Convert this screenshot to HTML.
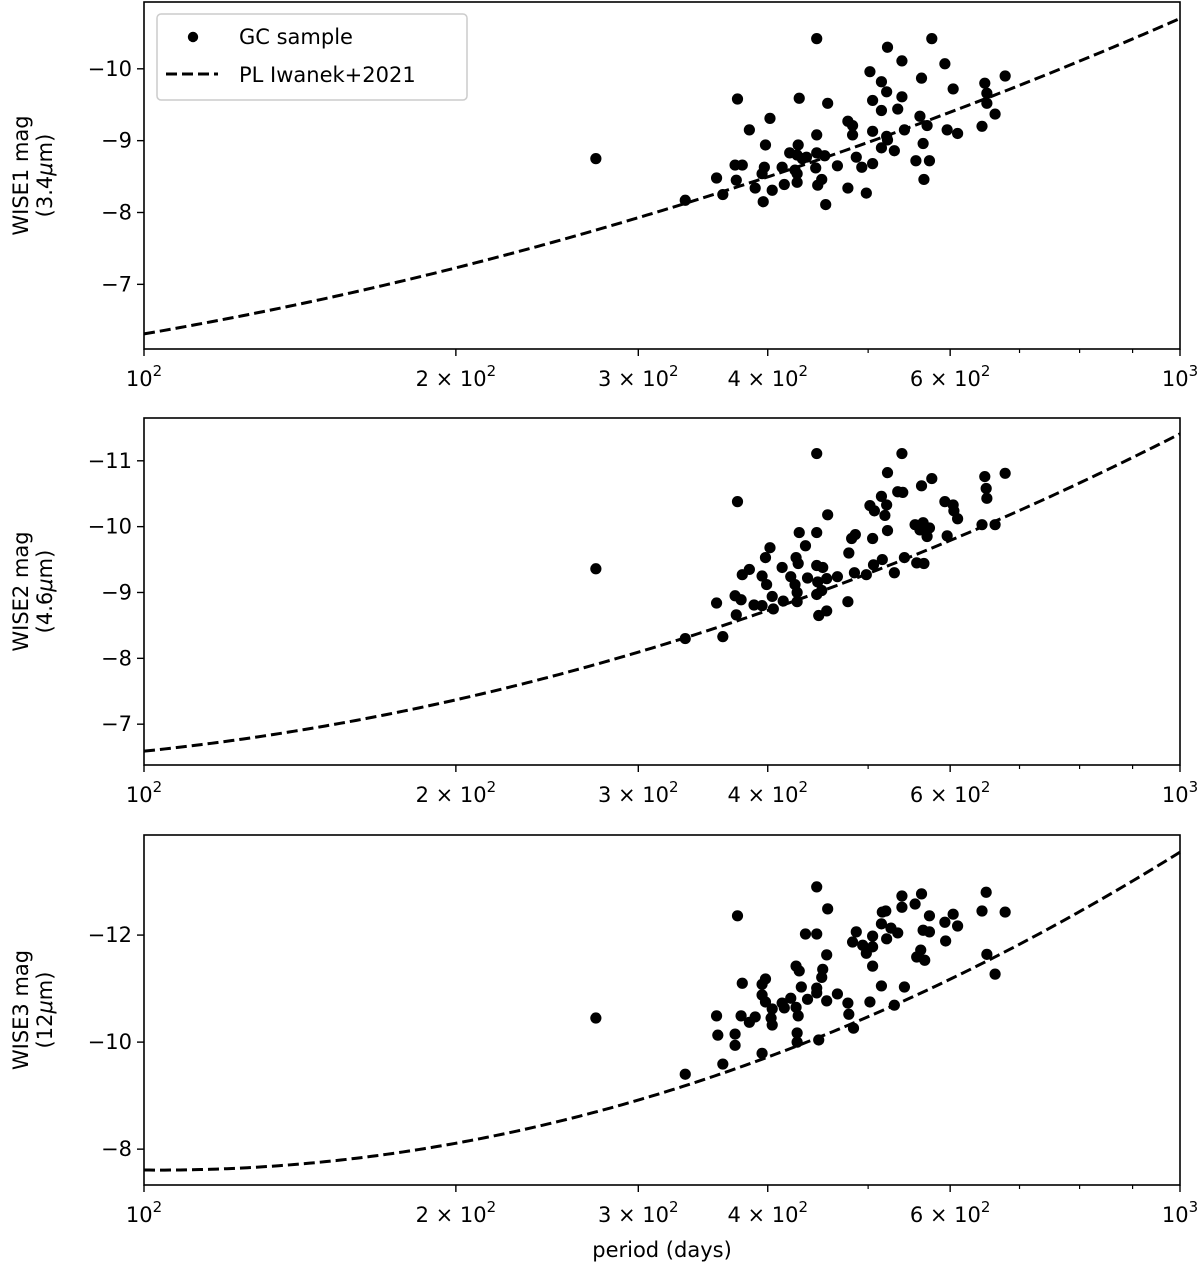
<!DOCTYPE html>
<html><head><meta charset="utf-8"><style>
html,body{margin:0;padding:0;background:#fff;}
svg{display:block;font-family:"DejaVu Sans","Liberation Sans",sans-serif;}
</style></head><body>
<svg id="fig" width="1200" height="1268" viewBox="0 0 1200 1268" xmlns="http://www.w3.org/2000/svg"></svg>
<script>
const xDomain=[100,1000];
const xTickMajor=[100,200,300,400,600,1000];
const xTickLabels=[["10","2"],["2 \u00d7 10","2"],["3 \u00d7 10","2"],["4 \u00d7 10","2"],["6 \u00d7 10","2"],["10","3"]];
const xTickMinor=[500,700,800,900];
const plCoef1=[-6.31,-2.48,-1.91];
const plCoef2=[-6.59,-1.63,-3.19];
const plCoef3=[-7.61,0.18,-6.12];
const yTicks1=[-10,-9,-8,-7];
const yTicks2=[-11,-10,-9,-8,-7];
const yTicks3=[-12,-10,-8];
const yDomain1=[-10.93,-6.10];
const yDomain2=[-11.65,-6.38];
const yDomain3=[-13.87,-7.33];
const w1=[[273,-8.75],[446,-10.42],[576,-10.42],[522,-10.30],[539,-10.11],[593,-10.07],[502,-9.96],[678,-9.90],[563,-9.87],[648,-9.80],[515,-9.82],[604,-9.72],[521,-9.68],[374,-9.58],[429,-9.59],[457,-9.52],[505,-9.56],[539,-9.61],[651,-9.66],[651,-9.52],[515,-9.42],[534,-9.44],[663,-9.37],[402,-9.31],[478,-9.27],[561,-9.34],[384,-9.15],[483,-9.21],[483,-9.08],[505,-9.13],[542,-9.15],[570,-9.21],[596,-9.15],[610,-9.10],[644,-9.20],[446,-9.08],[521,-9.06],[522,-9.01],[398,-8.94],[428,-8.94],[565,-8.96],[420,-8.83],[427,-8.80],[436,-8.77],[446,-8.83],[454,-8.79],[515,-8.90],[530,-8.86],[487,-8.77],[372,-8.66],[378,-8.66],[397,-8.63],[413,-8.63],[425,-8.59],[432,-8.75],[445,-8.62],[467,-8.65],[493,-8.63],[505,-8.68],[556,-8.72],[573,-8.72],[357,-8.48],[373,-8.45],[395,-8.54],[427,-8.54],[427,-8.42],[451,-8.46],[447,-8.38],[566,-8.46],[389,-8.34],[404,-8.31],[415,-8.39],[478,-8.34],[498,-8.27],[362,-8.25],[396,-8.15],[455,-8.11],[333,-8.17]];
const w2=[[273,-9.36],[446,-11.11],[539,-11.11],[522,-10.82],[678,-10.81],[648,-10.76],[576,-10.73],[563,-10.62],[650,-10.58],[534,-10.53],[540,-10.52],[515,-10.46],[651,-10.43],[374,-10.38],[593,-10.38],[502,-10.32],[521,-10.33],[604,-10.33],[507,-10.24],[605,-10.24],[519,-10.17],[457,-10.18],[610,-10.12],[555,-10.03],[565,-10.06],[644,-10.03],[663,-10.03],[561,-9.95],[573,-9.98],[570,-9.85],[596,-9.86],[522,-9.94],[429,-9.91],[446,-9.91],[486,-9.88],[482,-9.82],[505,-9.82],[435,-9.71],[402,-9.68],[398,-9.53],[479,-9.60],[426,-9.53],[428,-9.44],[413,-9.38],[446,-9.41],[452,-9.38],[542,-9.53],[516,-9.50],[557,-9.45],[566,-9.44],[506,-9.42],[530,-9.30],[384,-9.35],[378,-9.27],[395,-9.25],[421,-9.24],[437,-9.22],[456,-9.21],[467,-9.24],[485,-9.30],[498,-9.27],[399,-9.12],[425,-9.12],[447,-9.16],[372,-8.95],[377,-8.89],[404,-8.94],[427,-9.00],[451,-9.03],[446,-8.97],[357,-8.84],[388,-8.81],[395,-8.80],[414,-8.87],[427,-8.86],[405,-8.75],[478,-8.86],[373,-8.66],[456,-8.72],[448,-8.65],[333,-8.30],[362,-8.33]];
const w3=[[273,-10.45],[446,-12.90],[650,-12.80],[539,-12.73],[563,-12.77],[555,-12.58],[539,-12.52],[516,-12.43],[520,-12.45],[457,-12.49],[644,-12.45],[678,-12.43],[573,-12.36],[604,-12.39],[374,-12.36],[593,-12.24],[610,-12.17],[515,-12.21],[526,-12.13],[565,-12.09],[573,-12.06],[534,-12.04],[487,-12.06],[505,-11.98],[521,-11.93],[435,-12.02],[446,-12.02],[594,-11.89],[483,-11.87],[494,-11.81],[505,-11.78],[498,-11.66],[562,-11.72],[557,-11.59],[567,-11.53],[651,-11.64],[456,-11.63],[505,-11.42],[426,-11.42],[429,-11.33],[452,-11.36],[451,-11.21],[663,-11.27],[398,-11.18],[395,-11.08],[378,-11.10],[515,-11.05],[542,-11.03],[431,-11.03],[446,-11.01],[446,-10.92],[395,-10.88],[467,-10.90],[421,-10.82],[437,-10.80],[456,-10.77],[398,-10.75],[413,-10.73],[502,-10.75],[478,-10.73],[404,-10.62],[415,-10.64],[426,-10.65],[530,-10.69],[428,-10.49],[479,-10.52],[357,-10.49],[377,-10.49],[384,-10.37],[389,-10.47],[403,-10.45],[404,-10.32],[484,-10.26],[358,-10.13],[372,-10.15],[427,-10.17],[372,-9.94],[427,-10.00],[448,-10.04],[395,-9.79],[362,-9.59],[333,-9.40]];

const NS="http://www.w3.org/2000/svg";
const svg=document.getElementById('fig');
const L=144,R=1180;
function mk(tag,attrs,parent){const e=document.createElementNS(NS,tag);for(const k in attrs)e.setAttribute(k,attrs[k]);(parent||svg).appendChild(e);return e;}
function xs(p){return L+(Math.log10(p)-Math.log10(xDomain[0]))/(Math.log10(xDomain[1])-Math.log10(xDomain[0]))*(R-L);}

const panels=[
 {top:2,bot:349,dom:yDomain1,ticks:yTicks1,coef:plCoef1,data:w1,l1:"WISE1 mag",l2:"(3.4",l3:"m)",key:"wise1"},
 {top:418,bot:765,dom:yDomain2,ticks:yTicks2,coef:plCoef2,data:w2,l1:"WISE2 mag",l2:"(4.6",l3:"m)",key:"wise2"},
 {top:835,bot:1185,dom:yDomain3,ticks:yTicks3,coef:plCoef3,data:w3,l1:"WISE3 mag",l2:"(12",l3:"m)",key:"wise3"}
];
panels.forEach((P,pi)=>{
 const g=mk('g',{});
 
 
 const ys=v=>P.top+(v-P.dom[0])/(P.dom[1]-P.dom[0])*(P.bot-P.top);
 let d="";
 for(let i=0;i<=200;i++){const u=i/200;const p=Math.pow(10,2+u);const m=P.coef[0]+P.coef[1]*u+P.coef[2]*u*u;d+=(i?"L":"M")+xs(p).toFixed(2)+","+ys(m).toFixed(2);}
 const pl=mk('path',{d:d,fill:'none',stroke:'#000','stroke-width':3,'stroke-dasharray':'11,5'},g);
 
 
 P.data.forEach(pt=>{
  const c=mk('circle',{cx:xs(pt[0]),cy:ys(pt[1]),r:5.6,fill:'#000'},g);
  
  
 });
 const fr=mk('rect',{x:L,y:P.top,width:R-L,height:P.bot-P.top,fill:'none',stroke:'#000','stroke-width':1.6},g);
 
 
 P.ticks.forEach(t=>{
  const y=ys(t);
  mk('line',{x1:L-7,x2:L,y1:y,y2:y,stroke:'#000','stroke-width':1.4},g);
  const tx=mk('text',{x:L-12,y:y+7,'text-anchor':'end','font-size':21},g);
  tx.textContent="\u2212"+Math.abs(t);
  
  
 });
 xTickMajor.forEach((t,i)=>{
  const x=xs(t);
  mk('line',{x1:x,x2:x,y1:P.bot,y2:P.bot+7,stroke:'#000','stroke-width':1.4},g);
  const tx=mk('text',{x:x,y:P.bot+37,'text-anchor':'middle','font-size':21},g);
  
  
  const a=mk('tspan',{},tx);a.textContent=xTickLabels[i][0];
  const b=mk('tspan',{dy:-10,'font-size':15},tx);b.textContent=xTickLabels[i][1];
 });
 xTickMinor.forEach(t=>{const x=xs(t);mk('line',{x1:x,x2:x,y1:P.bot,y2:P.bot+4,stroke:'#000','stroke-width':1.2},g);});
 const cy=(P.top+P.bot)/2;
 const yl=mk('text',{transform:`translate(28,${cy}) rotate(-90)`,'text-anchor':'middle','font-size':21},g);
 yl.textContent=P.l1;
 
 
 const yl2=mk('text',{transform:`translate(52,${cy}) rotate(-90)`,'text-anchor':'middle','font-size':21},g);
 
 
 const s1=mk('tspan',{},yl2);s1.textContent=P.l2;
 const s2=mk('tspan',{'font-style':'italic'},yl2);s2.textContent="\u03bc";
 const s3=mk('tspan',{},yl2);s3.textContent=P.l3;
});
const xt=mk('text',{x:(L+R)/2,y:1257,'text-anchor':'middle','font-size':21});
xt.textContent="period (days)";


const lg=mk('g',{});


mk('rect',{x:157,y:14,width:310,height:86,rx:4,fill:'#fff','fill-opacity':0.8,stroke:'#ccc','stroke-width':1.5},lg);
mk('circle',{cx:193,cy:37,r:5.2,fill:'#000'},lg);
const lt1=mk('text',{x:239,y:44,'font-size':21},lg);lt1.textContent="GC sample";


mk('line',{x1:166,x2:218,y1:74,y2:74,stroke:'#000','stroke-width':3,'stroke-dasharray':'11,5'},lg);
const lt2=mk('text',{x:239,y:82,'font-size':21},lg);lt2.textContent="PL Iwanek+2021";


</script>
</body></html>
